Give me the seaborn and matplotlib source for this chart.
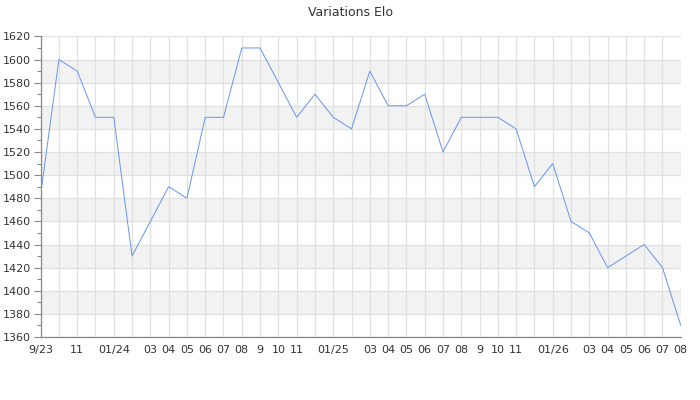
import numpy as np
import pandas as pd
import matplotlib
matplotlib.use("Agg")
import matplotlib.pyplot as plt
from matplotlib.ticker import MultipleLocator
import seaborn as sns

# Monthly Elo readings (months with no reading are simply absent)
months = [
    "2023-09", "2023-10", "2023-11", "2023-12", "2024-01", "2024-02",
    "2024-04", "2024-05", "2024-06", "2024-07", "2024-08", "2024-09",
    "2024-11", "2024-12", "2025-01", "2025-02", "2025-03", "2025-04",
    "2025-05", "2025-06", "2025-07", "2025-08", "2025-09", "2025-10",
    "2025-11", "2025-12", "2026-01", "2026-02", "2026-03", "2026-04",
    "2026-06", "2026-07", "2026-08",
]
elo = [
    1483, 1600, 1590, 1550, 1550, 1430,
    1490, 1480, 1550, 1550, 1610, 1610,
    1550, 1570, 1550, 1540, 1590, 1560,
    1560, 1570, 1520, 1550, 1550, 1550,
    1540, 1490, 1510, 1460, 1450, 1420,
    1440, 1420, 1370,
]
tick_labels = [
    "9/23", "", "11", "", "01/24", "", "03", "04", "05", "06", "07", "08",
    "9", "10", "11", "", "01/25", "", "03", "04", "05", "06", "07", "08",
    "9", "10", "11", "", "01/26", "", "03", "04", "05", "06", "07", "08",
]
title = "Variations Elo"

start = pd.Period("2023-09", freq="M")
df = pd.DataFrame({"month": months, "elo": elo})
df["idx"] = [(pd.Period(m, freq="M") - start).n for m in df["month"]]

sns.set_theme(style="white")
plt.rcParams["font.family"] = ["DejaVu Sans"]

fig = plt.figure(figsize=(7, 4), dpi=100)
ax = fig.add_axes([0.058, 0.1575, 0.9145, 0.7515])

y_min, y_max = 1360, 1620
# alternating grey bands
for lo in range(1380, y_max, 40):
    ax.axhspan(lo, lo + 20, color="#f2f2f2", zorder=0, lw=0)

sns.lineplot(data=df, x="idx", y="elo", ax=ax, color="#6495ed",
             linewidth=0.7, zorder=3)

ax.set_xlim(0, len(tick_labels) - 1)
ax.set_ylim(y_min, y_max)
ax.set_xticks(np.arange(len(tick_labels)))
ax.set_xticklabels(tick_labels)
ax.yaxis.set_major_locator(MultipleLocator(20))
ax.yaxis.set_minor_locator(MultipleLocator(10))

ax.grid(True, which="major", color="#e0e0e0", linewidth=0.9, zorder=1)
ax.set_axisbelow(True)

ax.tick_params(axis="x", length=0, labelsize=8, labelcolor="#333333", pad=6)
ax.tick_params(axis="y", which="major", left=True, length=5, width=0.8,
               color="#888888", labelsize=8, labelcolor="#333333", pad=2)
ax.tick_params(axis="y", which="minor", left=True, length=3, width=0.8,
               color="#888888")

for side in ["top", "right"]:
    ax.spines[side].set_visible(False)
for side in ["left", "bottom"]:
    ax.spines[side].set_color("#888888")
    ax.spines[side].set_linewidth(0.9)

ax.set_xlabel("")
ax.set_ylabel("")
fig.suptitle(title, fontsize=9, color="#333333", y=0.985)

fig.savefig("out.png", dpi=100)
